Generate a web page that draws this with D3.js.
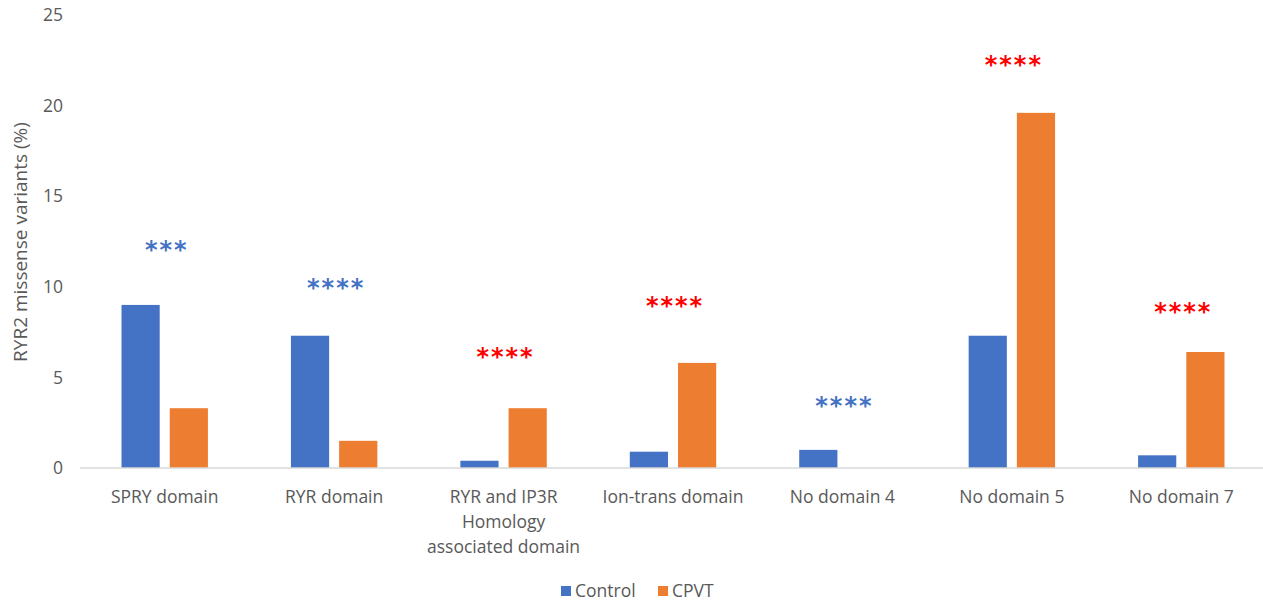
<!DOCTYPE html>
<html>
<head>
<meta charset="utf-8">
<script src="https://cdn.jsdelivr.net/npm/d3@7"></script>
<style>
  html, body { margin: 0; padding: 0; background: #fff; }
  svg { display: block; font-family: "Open Sans", "Noto Sans", sans-serif; }
</style>
</head>
<body>
<svg id="chart" width="1263" height="602"></svg>
<script>
// Domains along RYR2 and the share of missense variants found in each
const categories = [
  ["SPRY domain"],
  ["RYR domain"],
  ["RYR and IP3R", "Homology", "associated domain"],
  ["Ion-trans domain"],
  ["No domain 4"],
  ["No domain 5"],
  ["No domain 7"]
];
const seriesNames = ["Control", "CPVT"];
const controlValues = [9.0, 7.3, 0.4, 0.9, 1.0, 7.3, 0.7];
const cpvtValues = [3.3, 1.5, 3.3, 5.8, 0, 19.6, 6.4];
// Significance marks: text, which group is enriched, and the height they sit at (%)
const sigMarks = ["***", "****", "****", "****", "****", "****", "****"];
const sigGroup = ["Control", "Control", "CPVT", "CPVT", "Control", "CPVT", "CPVT"];
const sigLevel = [12.2, 10.1, 6.3, 9.1, 3.6, 22.4, 8.8];
const yTicks = [0, 5, 10, 15, 20, 25];

const colors = { Control: "#4472C4", CPVT: "#ED7D31" };
const sigColors = { Control: "#4472C4", CPVT: "#FF0000" };
const textColor = "#595959";
const fontSize = "17.5px";

const svg = d3.select("#chart");
const margin = { left: 80, right: -3, top: 15, bottom: 134 };
const W = 1263, H = 602;
const plotBottom = H - margin.bottom; // 468

const keys = categories.map((c, i) => i);
const x0 = d3.scaleBand().domain(keys).range([margin.left, W - margin.right]).paddingInner(0.49).paddingOuter(0.245);
const x1 = d3.scaleBand().domain(seriesNames).range([0, x0.bandwidth()]).paddingInner(0.208);
const y = d3.scaleLinear().domain([0, 25]).range([plotBottom, margin.top]);

// y axis tick labels (no axis line, no ticks)
const yAxis = svg.append("g")
  .attr("transform", `translate(${margin.left - 17},0)`)
  .call(d3.axisLeft(y).tickValues(yTicks).tickSize(0).tickPadding(0));
yAxis.select(".domain").remove();
yAxis.selectAll("text")
  .attr("fill", textColor)
  .style("font-size", fontSize)
  .style("font-family", "'Open Sans', sans-serif");

// y axis title
svg.append("text")
  .attr("transform", `translate(27,242) rotate(-90)`)
  .attr("text-anchor", "middle")
  .attr("fill", textColor)
  .style("font-size", "19px")
  .text("RYR2 missense variants (%)");

// bars
const rows = keys.map(i => ({ i, vals: [
  { key: "Control", v: controlValues[i] },
  { key: "CPVT", v: cpvtValues[i] }
]}));
const groups = svg.append("g").selectAll("g").data(rows).join("g")
  .attr("transform", d => `translate(${x0(d.i)},0)`);
groups.selectAll("rect").data(d => d.vals).join("rect")
  .attr("x", d => x1(d.key))
  .attr("width", x1.bandwidth())
  .attr("y", d => y(d.v))
  .attr("height", d => y(0) - y(d.v))
  .attr("fill", d => colors[d.key]);

// category axis
const xAxis = svg.append("g")
  .attr("transform", `translate(0,${plotBottom})`)
  .call(d3.axisBottom(x0).tickSize(0).tickFormat(""));
xAxis.select(".domain").attr("stroke", "#D9D9D9").attr("stroke-width", 1.5)
  .attr("d", `M${margin.left},0H${W}`);

const labels = svg.append("g");
categories.forEach((lines, i) => {
  const cx = x0(i) + x0.bandwidth() / 2;
  const t = labels.append("text")
    .attr("text-anchor", "middle")
    .attr("fill", textColor)
    .style("font-size", fontSize);
  lines.forEach((ln, k) => {
    t.append("tspan").attr("x", cx).attr("y", plotBottom + 35 + k * 25).text(ln);
  });
});

// significance asterisks
svg.append("g").selectAll("text").data(keys).join("text")
  .attr("x", i => x0(i) + x0.bandwidth() / 2 + 2)
  .attr("y", i => y(sigLevel[i]) + 11)
  .attr("text-anchor", "middle")
  .attr("fill", i => sigColors[sigGroup[i]])
  .style("font-size", "24px")
  .style("font-weight", "bold")
  .style("font-family", "'DejaVu Sans', sans-serif")
  .style("letter-spacing", "2px")
  .text(i => sigMarks[i]);

// legend
const legend = svg.append("g").attr("transform", "translate(561,591)");
const legendX = [0, 97];
seriesNames.forEach((s, k) => {
  const g = legend.append("g").attr("transform", `translate(${legendX[k]},0)`);
  g.append("rect").attr("x", 0).attr("y", -5).attr("width", 10).attr("height", 10).attr("fill", colors[s]);
  g.append("text").attr("x", 14).attr("y", 6).attr("fill", textColor)
    .style("font-size", fontSize).text(s);
});
</script>
</body>
</html>
